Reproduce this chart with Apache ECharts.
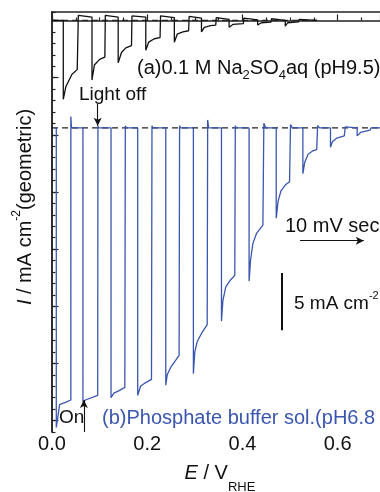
<!DOCTYPE html>
<html>
<head>
<meta charset="utf-8">
<script src="https://cdn.jsdelivr.net/npm/echarts@6.0.0/dist/echarts.min.js"></script>
<style>
  html, body { margin: 0; padding: 0; background: #fff; }
  #canvas_main { width: 380px; height: 492px; }
</style>
</head>
<body>
<div id="canvas_main"></div>
<script>
// (a) Na2SO4, chopped light, [E / V_RHE, I / mA cm-2]
var curveA = [
  [0.002, 0.0], [0.0237, 0.0], [0.0237, -6.9], [0.029, -5.8], [0.042, -4.7], [0.053, -4.3], [0.0553, 0.45], [0.057, 0.3],
  [0.084, 0.3], [0.084, -5.2], [0.089, -3.9], [0.100, -3.4], [0.111, -3.2], [0.112, 0.45], [0.114, 0.3],
  [0.139, 0.3], [0.139, -3.7], [0.146, -2.8], [0.155, -2.4], [0.167, -2.2], [0.168, 0.4], [0.170, 0.3],
  [0.197, 0.3], [0.197, -2.6], [0.203, -1.9], [0.215, -1.6], [0.227, -1.5], [0.228, 0.4], [0.230, 0.25],
  [0.257, 0.25], [0.257, -1.9], [0.263, -1.2], [0.275, -1.0], [0.287, -0.9], [0.288, 0.35], [0.290, 0.2],
  [0.314, 0.2], [0.314, -1.0], [0.320, -0.6], [0.333, -0.45], [0.344, -0.4], [0.345, 0.25], [0.347, 0.1],
  [0.372, 0.1], [0.372, -0.6], [0.380, -0.35], [0.402, -0.28], [0.403, 0.2], [0.405, 0.05],
  [0.432, 0.05], [0.432, -0.4], [0.440, -0.2], [0.460, -0.15], [0.461, 0.15], [0.463, 0.0],
  [0.490, 0.0], [0.490, -0.5], [0.495, -0.2], [0.518, -0.12], [0.519, 0.1], [0.521, 0.0],
  [0.557, 0.0]
];
// (b) phosphate buffer, same axes, offset baseline
var curveB = [
  [0.004, -9.4], [0.009, -9.4], [0.009, -35.6], [0.016, -33.6], [0.028, -33.4], [0.0396, -33.2], [0.0396, -8.4], [0.041, -9.4],
  [0.065, -9.4], [0.065, -33.4], [0.070, -33.2], [0.096, -32.8], [0.0965, -9.2], [0.098, -9.4],
  [0.124, -9.4], [0.124, -33.0], [0.130, -32.6], [0.140, -32.4], [0.153, -32.1], [0.154, -9.2], [0.156, -9.4],
  [0.180, -9.4], [0.180, -32.8], [0.186, -32.0], [0.196, -31.7], [0.209, -31.4], [0.210, -9.2], [0.212, -9.4],
  [0.239, -9.4], [0.239, -31.9], [0.242, -31.0], [0.250, -30.3], [0.267, -29.3], [0.268, -9.2], [0.270, -9.4],
  [0.297, -9.4], [0.297, -30.9], [0.300, -29.0], [0.305, -28.1], [0.315, -27.3], [0.326, -26.6], [0.327, -8.7], [0.329, -9.4],
  [0.356, -9.4], [0.356, -26.3], [0.359, -24.5], [0.365, -23.3], [0.375, -22.7], [0.384, -22.3], [0.385, -9.2], [0.387, -9.4],
  [0.414, -9.4], [0.414, -22.8], [0.417, -21.0], [0.422, -19.5], [0.430, -18.6], [0.443, -17.9], [0.445, -9.0], [0.449, -9.4],
  [0.471, -9.4], [0.471, -17.3], [0.475, -15.8], [0.481, -14.9], [0.490, -14.4], [0.499, -14.1], [0.501, -9.1], [0.505, -9.4],
  [0.527, -9.4], [0.527, -13.4], [0.531, -12.4], [0.538, -11.7], [0.548, -11.4], [0.556, -11.3], [0.558, -9.2], [0.562, -9.4],
  [0.585, -9.4], [0.585, -11.1], [0.589, -10.6], [0.598, -10.3], [0.614, -10.1], [0.616, -9.3], [0.620, -9.4],
  [0.641, -9.4], [0.641, -10.1], [0.648, -9.8], [0.668, -9.6], [0.670, -9.4], [0.690, -9.4]
];
// dark-current reference lines
var baseA = [[0.0, 0.0], [0.557, 0.0]];
var baseB = [[0.0, -9.4], [0.690, -9.4]];

var xTicks = [0.0, 0.2, 0.4, 0.6];
var yMajor = [0, -5, -10, -15, -20, -25, -30, -35];

var FONT = 'Liberation Sans, Arial, sans-serif';
var BLUE = '#3a56b0';
var INK = '#111';

var myChart = echarts.init(document.getElementById('canvas_main'));

function arrow(x1, y1, x2, y2) {
  return [{ coord: [x1, y1], symbol: 'none' }, { coord: [x2, y2], symbol: 'arrow' }];
}

// no tick labels on the current axis; minor ticks every 1 mA, long ones every 5
var yMin = -36, yMax = 0.74;
var option = {
  animation: false,
  backgroundColor: '#fff',
  grid: { left: 52, top: 12, right: -6, bottom: 60 },
  xAxis: [{
    type: 'value', min: 0, max: 0.689, interval: 0.2,
    axisLine: { lineStyle: { color: '#222', width: 1.5 } },
    axisTick: { inside: true, length: 6, lineStyle: { color: '#222', width: 1.2 } },
    minorTick: { show: true, splitNumber: 4, length: 3, lineStyle: { color: '#222', width: 1.2 } },
    axisLabel: {
      fontSize: 20, color: INK, fontFamily: FONT, margin: 2, showMaxLabel: false,
      formatter: function (v) { return xTicks.indexOf(Math.round(v * 10) / 10) >= 0 ? v.toFixed(1) : ''; }
    },
    splitLine: { show: false }
  }, {
    type: 'value', position: 'top', min: 0, max: 0.689,
    axisLine: { show: true, onZero: false, lineStyle: { color: '#222', width: 1.5 } },
    axisTick: { show: false }, axisLabel: { show: false }, splitLine: { show: false }
  }],
  yAxis: [{
    type: 'value', min: yMin, max: yMax, interval: 1,
    axisLine: { show: true, lineStyle: { color: '#222', width: 1.5 } },
    axisTick: { show: true, inside: true, length: 3.5, lineStyle: { color: '#222', width: 1.2 } },
    axisLabel: { show: false }, splitLine: { show: false }
  }, {
    type: 'value', position: 'left', offset: 0, min: yMin, max: yMax,
    axisLine: { show: true, lineStyle: { color: '#222', width: 1.5 } },
    axisTick: { show: true, inside: true, length: 6.5, customValues: yMajor, lineStyle: { color: '#222', width: 1.2 } },
    axisLabel: { show: false }, splitLine: { show: false }
  }],
  series: [
    {
      type: 'line', data: baseA, showSymbol: false, silent: true,
      lineStyle: { color: '#222', width: 1.2, type: [6, 4] }
    },
    {
      type: 'line', data: baseB, showSymbol: false, silent: true,
      lineStyle: { color: '#222', width: 1.2, type: [6, 4] }
    },
    {
      name: '(a)', type: 'line', data: curveA, showSymbol: false,
      lineStyle: { color: '#111', width: 1.3 },
      markLine: {
        silent: true, symbolSize: [6, 8], label: { show: false },
        lineStyle: { color: '#111', width: 1.1, type: 'solid' },
        data: [
          arrow(0.096, -7.3, 0.096, -9.2),      // Light off
          arrow(0.067, -36, 0.067, -33.2),      // On
          arrow(0.521, -19.26, 0.655, -19.26)   // sweep direction
        ]
      }
    },
    {
      name: '(b)', type: 'line', data: curveB, showSymbol: false,
      lineStyle: { color: BLUE, width: 1.3 },
      markLine: {
        silent: true, symbol: 'none', label: { show: false },
        lineStyle: { color: '#111', width: 2, type: 'solid' },
        // 5 mA cm-2 scale bar
        data: [[{ coord: [0.482, -22.1] }, { coord: [0.482, -27.1] }]]
      }
    }
  ],
  graphic: [
    {
      type: 'text', x: 25, y: 207, rotation: Math.PI / 2,
      style: {
        text: '{i|I} / mA cm{sup|-2}(geometric)', fontSize: 20, fontFamily: FONT, fill: INK,
        align: 'center', verticalAlign: 'middle', lineHeight: 28,
        rich: { i: { fontStyle: 'italic', fontSize: 20, lineHeight: 28 }, sup: { fontSize: 12, verticalAlign: 'top', lineHeight: 14 } }
      }
    },
    {
      type: 'text', x: 220, y: 473,
      style: {
        text: '{i|E} / V{sub|RHE}', fontSize: 20, fontFamily: FONT, fill: INK,
        align: 'center', verticalAlign: 'middle', lineHeight: 42,
        rich: { i: { fontStyle: 'italic', fontSize: 20, lineHeight: 42 }, sub: { fontSize: 13, verticalAlign: 'bottom', lineHeight: 14 } }
      }
    },
    {
      type: 'text', x: 137, y: 68,
      style: {
        text: '(a)0.1 M Na{sub|2}SO{sub|4}aq (pH9.5)', fontSize: 20, fontFamily: FONT, fill: INK,
        align: 'left', verticalAlign: 'middle', lineHeight: 28,
        rich: { sub: { fontSize: 13, verticalAlign: 'bottom', lineHeight: 14 } }
      }
    },
    {
      type: 'text', x: 79, y: 95,
      style: { text: 'Light off', fontSize: 19, fontFamily: FONT, fill: INK, align: 'left', verticalAlign: 'middle' }
    },
    {
      type: 'text', x: 285, y: 226,
      style: {
        text: '10 mV sec{sup|-1}', fontSize: 20, fontFamily: FONT, fill: INK,
        align: 'left', verticalAlign: 'middle', lineHeight: 28,
        rich: { sup: { fontSize: 12, verticalAlign: 'top', lineHeight: 14 } }
      }
    },
    {
      type: 'text', x: 294, y: 304,
      style: {
        text: '5 mA cm{sup|-2}', fontSize: 19, fontFamily: FONT, fill: INK,
        align: 'left', verticalAlign: 'middle', lineHeight: 28,
        rich: { sup: { fontSize: 11, verticalAlign: 'top', lineHeight: 14 } }
      }
    },
    {
      type: 'text', x: 102, y: 418,
      style: { text: '(b)Phosphate buffer sol.(pH6.8', fontSize: 20, fontFamily: FONT, fill: BLUE, align: 'left', verticalAlign: 'middle' }
    },
    {
      type: 'text', x: 59, y: 418,
      style: { text: 'On', fontSize: 19, fontFamily: FONT, fill: INK, align: 'left', verticalAlign: 'middle' }
    }
  ]
};
myChart.setOption(option);
</script>
</body>
</html>
